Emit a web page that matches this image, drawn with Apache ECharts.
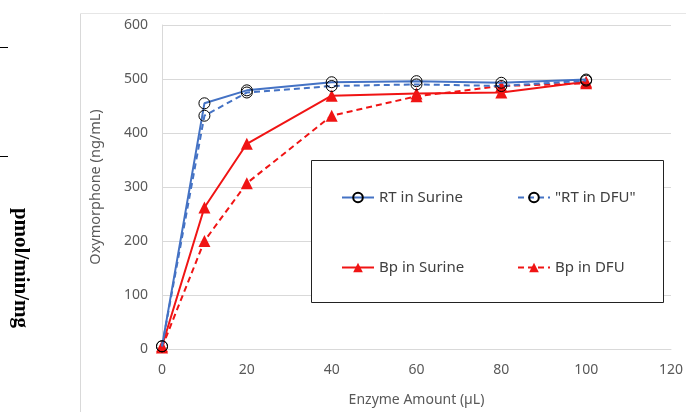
<!DOCTYPE html>
<html><head><meta charset="utf-8">
<script src="https://cdn.jsdelivr.net/npm/echarts@6/dist/echarts.min.js"></script>
<style>html,body{margin:0;padding:0;background:#fff}#c{width:686px;height:412px}</style>
</head><body><div id="c"></div>
<script>
var xValues = [0, 10, 20, 40, 60, 80, 100];
var rtSurine = [5, 455, 479, 494, 496, 493, 499];
var rtDFU = [5, 432, 475, 487, 490, 487, 497];
var bpSurine = [5, 262, 380, 469, 473, 475, 495];
var bpDFU = [3, 200, 307, 432, 468, 487, 492];
var seriesNames = ['RT in Surine', '"RT in DFU"', 'Bp in Surine', 'Bp in DFU'];
var xTitle = 'Enzyme Amount (\u00b5L)';
var yTitle = 'Oxymorphone (ng/mL)';
var sideText = 'pmol/min/mg';

function pairs(vals){ return xValues.map(function(x,i){ return [x, vals[i]]; }); }
var BLUE = '#4472C4', RED = '#F01414';
var font = 'Noto Sans';
function mk(name, vals, color, dashed, isCircle){
  return {
    name: name, type: 'line', data: pairs(vals),
    symbol: isCircle ? 'circle' : 'triangle',
    symbolSize: isCircle ? 11 : 12,
    lineStyle: {color: color, width: 2, type: dashed ? [6,4] : 'solid'},
    itemStyle: isCircle ? {color: 'rgba(255,255,255,0)', borderColor: '#000', borderWidth: 1} : {color: color, borderWidth: 0},
    emphasis: {disabled: true}, animation: false, z: isCircle ? 3 : 2
  };
}
var legendBase = {orient: 'horizontal', itemWidth: 32, itemHeight: 12, itemGap: 5, z: 20,
  textStyle: {fontFamily: font, fontSize: 15, color: '#404040'}, selectedMode: false};
function lg(name, left, top){ var o = Object.assign({}, legendBase); o.data = [name]; o.left = left; o.top = top; return o; }

var chart = echarts.init(document.getElementById('c'));
chart.setOption({
  animation: false,
  grid: {left: 162, right: 14, top: 25, bottom: 57},
  xAxis: {type: 'value', min: 0, max: 120, interval: 20,
    name: xTitle, nameLocation: 'middle', nameGap: 44,
    nameTextStyle: {fontFamily: font, fontSize: 14, color: '#595959'},
    axisLine: {show: true, lineStyle: {color: '#d9d9d9'}},
    axisTick: {show: false}, splitLine: {show: false},
    axisLabel: {fontFamily: font, fontSize: 14, color: '#595959', margin: 14}},
  yAxis: {type: 'value', min: 0, max: 600, interval: 100,
    name: yTitle, nameLocation: 'middle', nameGap: 59,
    nameTextStyle: {fontFamily: font, fontSize: 14.5, color: '#595959'},
    axisLine: {show: true, lineStyle: {color: '#d9d9d9'}},
    axisTick: {show: false},
    splitLine: {show: true, lineStyle: {color: '#d9d9d9'}},
    axisLabel: {fontFamily: font, fontSize: 14, color: '#595959', margin: 14}},
  legend: [lg(seriesNames[0], 336, 185), lg(seriesNames[1], 512, 185), lg(seriesNames[2], 336, 255), lg(seriesNames[3], 512, 255)],
  graphic: [
    {type: 'rect', z: 5, shape: {x: 311.5, y: 160.5, width: 352, height: 142}, style: {fill: '#fff', stroke: '#222', lineWidth: 1}},
    {type: 'line', shape: {x1: 80.5, y1: 13.5, x2: 80.5, y2: 412}, style: {stroke: '#d9d9d9', lineWidth: 1}},
    {type: 'line', shape: {x1: 80.5, y1: 13.5, x2: 686, y2: 13.5}, style: {stroke: '#e6e6e6', lineWidth: 1}},
    {type: 'line', shape: {x1: 0, y1: 47.5, x2: 8, y2: 47.5}, style: {stroke: '#000', lineWidth: 1}},
    {type: 'line', shape: {x1: 0, y1: 156.5, x2: 8, y2: 156.5}, style: {stroke: '#000', lineWidth: 1}},
    {type: 'text', x: 20, y: 268, rotation: -Math.PI/2,
      style: {text: sideText, font: 'bold 21px "Liberation Serif", serif', fill: '#000', textAlign: 'center', textVerticalAlign: 'middle'}}
  ],
  series: [
    mk(seriesNames[0], rtSurine, BLUE, false, true),
    mk(seriesNames[1], rtDFU, BLUE, true, true),
    mk(seriesNames[2], bpSurine, RED, false, false),
    mk(seriesNames[3], bpDFU, RED, true, false)
  ]
});
</script></body></html>
